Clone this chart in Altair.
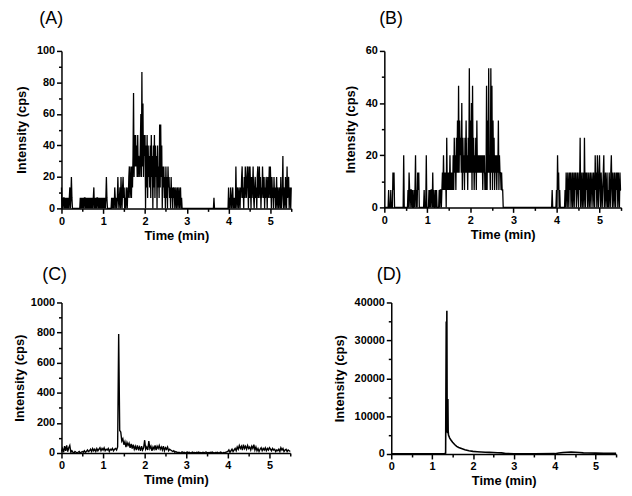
import altair as alt
import pandas as pd

# ---------------- data ----------------
STEP_AB = 0.0125          # sampling interval of panels A and B (min)
STEP_C = 0.025            # sampling interval of panel C (min)
COUNT_CPS = 100.0 / 15.0  # one ion count expressed in cps

# Panel A: counts per sample, 0 .. 5.5 min (one row = 0.5 min)
a_counts = [
    2, 0, 1, 0, 1, 1, 0, 1, 0, 1, 0, 1, 0, 1, 0, 1, 2, 0, 1, 3, 1, 0, 0, 0, 0, 0, 0, 0, 0, 0, 0, 0, 0, 0, 0, 0, 1, 0, 1, 0,
    1, 0, 1, 0, 1, 1, 0, 1, 0, 1, 0, 1, 0, 1, 0, 1, 0, 1, 0, 1, 0, 1, 2, 0, 1, 0, 1, 0, 1, 1, 0, 1, 0, 1, 0, 1, 0, 1, 0, 1,
    0, 1, 0, 1, 0, 1, 3, 1, 0, 0, 0, 0, 0, 0, 0, 0, 1, 0, 1, 0, 1, 0, 2, 1, 0, 1, 0, 1, 3, 1, 0, 1, 2, 0, 3, 1, 0, 2, 3, 1,
    2, 0, 1, 0, 2, 1, 0, 2, 1, 3, 4, 1, 2, 4, 1, 4, 2, 5, 11, 3, 7, 4, 7, 4, 6, 3, 7, 3, 5, 4, 3, 6, 9, 3, 13, 4, 10, 3, 7, 5,
    7, 0, 6, 2, 7, 1, 6, 3, 5, 2, 6, 1, 7, 3, 5, 0, 6, 2, 7, 1, 6, 3, 5, 0, 6, 2, 4, 1, 8, 2, 8, 3, 6, 0, 4, 2, 4, 1, 3, 0,
    4, 1, 3, 0, 4, 2, 3, 1, 2, 0, 3, 1, 2, 0, 2, 1, 2, 0, 1, 2, 0, 1, 2, 0, 1, 2, 0, 1, 2, 0, 1, 0, 0, 0, 0, 0, 0, 0, 0, 0,
    0, 0, 0, 0, 0, 0, 0, 0, 0, 0, 0, 0, 0, 0, 0, 0, 0, 0, 0, 0, 0, 0, 0, 0, 0, 0, 0, 0, 0, 0, 0, 0, 0, 0, 0, 0, 0, 0, 0, 0,
    0, 0, 0, 0, 0, 0, 0, 0, 0, 0, 0, 0, 1, 0, 0, 0, 0, 0, 0, 0, 0, 0, 0, 0, 0, 0, 0, 0, 0, 0, 0, 0, 0, 0, 0, 0, 0, 0, 0, 0,
    2, 0, 1, 0, 2, 1, 0, 1, 2, 0, 1, 0, 1, 0, 4, 1, 0, 2, 1, 0, 2, 1, 0, 2, 1, 3, 4, 1, 2, 0, 3, 1, 4, 2, 1, 3, 4, 2, 0, 4,
    1, 4, 2, 0, 3, 1, 2, 4, 1, 0, 2, 3, 1, 2, 0, 3, 4, 1, 2, 4, 1, 3, 0, 2, 1, 4, 2, 1, 3, 0, 2, 1, 3, 2, 0, 3, 1, 2, 4, 1,
    4, 2, 0, 3, 1, 2, 0, 3, 1, 2, 0, 1, 3, 0, 2, 1, 0, 2, 1, 0, 3, 0, 1, 2, 5, 0, 2, 1, 0, 3, 1, 0, 4, 1, 2, 3, 0, 1, 2, 0,
    2,
]

# Panel B: counts per sample, 0 .. 5.5 min (one row = 0.5 min)
b_counts = [
    0, 0, 0, 0, 0, 0, 0, 0, 1, 0, 0, 0, 1, 0, 0, 0, 2, 1, 2, 0, 0, 0, 0, 0, 0, 0, 0, 0, 0, 0, 0, 0, 0, 0, 0, 0, 3, 0, 0, 0,
    0, 0, 0, 0, 1, 0, 2, 1, 0, 1, 1, 0, 1, 0, 0, 1, 0, 1, 3, 0, 1, 0, 2, 1, 2, 0, 0, 0, 0, 0, 0, 0, 0, 0, 1, 0, 0, 0, 3, 0,
    0, 0, 0, 1, 0, 1, 0, 1, 1, 0, 2, 0, 1, 0, 0, 1, 0, 1, 0, 0, 0, 0, 1, 0, 1, 1, 0, 1, 2, 1, 3, 1, 2, 1, 2, 0, 4, 1, 2, 1,
    2, 1, 3, 1, 2, 1, 2, 1, 3, 1, 4, 2, 3, 1, 4, 2, 5, 2, 7, 2, 5, 3, 4, 2, 6, 1, 4, 2, 3, 1, 4, 2, 5, 2, 3, 1, 4, 2, 8, 2,
    5, 2, 6, 1, 7, 2, 4, 1, 3, 2, 4, 1, 5, 2, 3, 2, 3, 2, 3, 2, 3, 2, 3, 1, 3, 2, 3, 1, 2, 1, 7, 1, 5, 2, 8, 2, 3, 1, 8, 2,
    7, 1, 5, 2, 4, 1, 3, 2, 3, 1, 3, 2, 5, 1, 3, 2, 2, 1, 2, 1, 1, 0, 0, 0, 0, 0, 0, 0, 0, 0, 0, 0, 0, 0, 0, 0, 0, 0, 0, 0,
    0, 0, 0, 0, 0, 0, 0, 0, 0, 0, 0, 0, 0, 0, 0, 0, 0, 0, 0, 0, 0, 0, 0, 0, 0, 0, 0, 0, 0, 0, 0, 0, 0, 0, 0, 0, 0, 0, 0, 0,
    0, 0, 0, 0, 0, 0, 0, 0, 0, 0, 0, 0, 0, 0, 0, 0, 0, 0, 0, 0, 0, 0, 0, 0, 0, 0, 0, 0, 0, 0, 0, 0, 1, 0, 0, 0, 0, 0, 0, 0,
    1, 0, 3, 1, 2, 0, 1, 0, 0, 0, 0, 0, 0, 0, 0, 0, 1, 0, 2, 1, 0, 2, 1, 0, 2, 1, 2, 0, 1, 2, 0, 2, 1, 0, 2, 1, 2, 0, 1, 2,
    1, 0, 2, 1, 4, 0, 2, 1, 0, 2, 1, 0, 4, 1, 0, 2, 1, 2, 0, 1, 2, 0, 1, 2, 0, 1, 2, 1, 0, 2, 1, 0, 3, 1, 2, 0, 3, 1, 0, 2,
    3, 1, 0, 2, 1, 0, 1, 2, 3, 0, 1, 2, 0, 1, 2, 0, 1, 0, 2, 1, 0, 2, 3, 1, 0, 2, 1, 0, 2, 1, 0, 2, 1, 2, 0, 2, 1, 0, 2, 1,
    1,
]

# Panel C: intensity (cps), 0 .. 5.5 min
c_cps = [
    10, 30, 5, 45, 15, 50, 10, 35, 50, 5, 15, 5, 0, 10, 5, 0, 5, 10, 0, 5,
    10, 5, 15, 5, 10, 20, 10, 15, 25, 10, 30, 15, 25, 10, 30, 15, 25, 35, 15, 30,
    20, 35, 15, 25, 20, 30, 10, 25, 20, 30, 15, 25, 30, 20, 40, 790, 150, 140, 80, 95,
    55, 75, 40, 70, 50, 65, 35, 60, 30, 55, 25, 45, 20, 50, 25, 40, 15, 45, 20, 35,
    85, 25, 40, 20, 80, 30, 45, 15, 40, 25, 50, 20, 45, 30, 50, 25, 40, 20, 45, 15,
    35, 25, 40, 15, 25, 20, 15, 10, 15, 5, 10, 5, 3, 5, 0, 3, 8, 2, 5, 0,
    4, 6, 2, 5, 0, 3, 7, 2, 4, 0, 5, 2, 6, 1, 3, 0, 5, 2, 4, 7,
    1, 3, 0, 5, 2, 6, 3, 0, 4, 2, 5, 1, 3, 6, 2, 0, 4, 3, 5, 8,
    10, 20, 5, 15, 25, 10, 20, 30, 15, 40, 25, 50, 30, 45, 20, 55, 30, 45, 25, 50,
    30, 40, 20, 45, 30, 55, 20, 40, 15, 30, 10, 25, 35, 15, 30, 20, 35, 15, 30, 20,
    35, 25, 15, 30, 20, 25, 10, 20, 15, 25, 10, 35, 20, 30, 10, 20, 25, 10, 20, 15,
    10,
]

# Panel D: (time, intensity) pairs
d_time = [0.0, 0.5, 1.0, 1.3, 1.33, 1.345, 1.352, 1.36, 1.368, 1.378, 1.385, 1.392,
          1.40, 1.43, 1.46, 1.5, 1.55, 1.6, 1.65, 1.7, 1.8, 1.9, 2.0, 2.1, 2.2, 2.3,
          2.4, 2.5, 2.6, 2.7, 2.8, 3.0, 3.5, 4.0, 4.1, 4.2, 4.3, 4.4, 4.5, 4.6, 4.7,
          4.8, 5.0, 5.2, 5.5]
d_cps = [50, 60, 80, 100, 200, 35000, 20000, 37800, 6000, 5500, 14500, 6200,
         5000, 4200, 3700, 3100, 2500, 2000, 1700, 1500, 1100, 850, 700, 600, 520, 460,
         420, 380, 340, 300, 150, 80, 60, 90, 250, 400, 480, 500, 470, 400, 300,
         250, 230, 200, 180]

x_ticks = [0, 0.5, 1, 1.5, 2, 2.5, 3, 3.5, 4, 4.5, 5, 5.5]
a_ticks = [0, 10, 20, 30, 40, 50, 60, 70, 80, 90, 100]
b_ticks = [0, 10, 20, 30, 40, 50, 60]
c_ticks = [0, 100, 200, 300, 400, 500, 600, 700, 800, 900, 1000]
d_ticks = [0, 5000, 10000, 15000, 20000, 25000, 30000, 35000, 40000]

df_a = pd.DataFrame({"t": [round(i * STEP_AB, 4) for i in range(len(a_counts))],
                     "v": [c * COUNT_CPS for c in a_counts]})
df_b = pd.DataFrame({"t": [round(i * STEP_AB, 4) for i in range(len(b_counts))],
                     "v": [c * COUNT_CPS for c in b_counts]})
df_c = pd.DataFrame({"t": [round(i * STEP_C, 4) for i in range(len(c_cps))],
                     "v": c_cps})
df_d = pd.DataFrame({"t": d_time, "v": d_cps})

FONT = "Liberation Sans"


def panel(df, label, ymax, yticks, ymajor, w, h, tpad, dx, toff, sw):
    common = dict(
        domainColor="black", domainWidth=1.5, tickColor="black", tickWidth=1.5,
        labelFont=FONT, labelFontSize=11, labelFontWeight="bold", labelColor="black",
        titleFont=FONT, titleFontSize=13, titleFontWeight="bold", titleColor="black",
        grid=False,
    )
    xaxis = alt.Axis(
        values=x_ticks, title="Time (min)",
        labelExpr="datum.value % 1 == 0 ? '' + datum.value : ''",
        tickSize={"condition": {"test": "datum.value % 1 != 0", "value": 3}, "value": 5},
        labelPadding=2, titlePadding=3, labelFlush=False, labelOverlap=False,
        **common,
    )
    yaxis = alt.Axis(
        values=yticks, title="Intensity (cps)",
        labelExpr=f"datum.value % {ymajor} == 0 ? '' + datum.value : ''",
        tickSize={"condition": {"test": f"datum.value % {ymajor} != 0", "value": 3}, "value": 5},
        labelPadding=2, titlePadding=tpad, labelFlush=False, labelOverlap=False,
        **common,
    )
    return alt.Chart(df).mark_line(color="black", strokeWidth=sw).encode(
        x=alt.X("t:Q", scale=alt.Scale(domain=[0, 5.5], nice=False), axis=xaxis),
        y=alt.Y("v:Q", scale=alt.Scale(domain=[0, ymax], nice=False), axis=yaxis),
    ).properties(
        width=w, height=h,
        title=alt.TitleParams(label, anchor="start", frame="bounds", font=FONT,
                              fontSize=18, fontWeight="normal", color="black",
                              offset=toff, dx=dx),
    )


pa = panel(df_a, "(A)", 100, a_ticks, 20, 232, 159, 8, 24, 17, 1.3)
pb = panel(df_b, "(B)", 60, b_ticks, 20, 239, 158, 8, 35, 17, 1.3)
pc = panel(df_c, "(C)", 1000, c_ticks, 200, 231, 152, 4, 29, 13, 1.4)
pd_ = panel(df_d, "(D)", 40000, d_ticks, 10000, 227, 153, 8, 44, 13, 1.6)

chart = alt.vconcat(
    alt.hconcat(pa, pb, spacing=50),
    alt.hconcat(pc, pd_, spacing=40),
    spacing=24,
).properties(
    padding={"left": 5, "top": 0, "right": 0, "bottom": 0}
).configure_view(stroke=None)

chart.save("out.html", embed_options={"renderer": "svg", "actions": False})
